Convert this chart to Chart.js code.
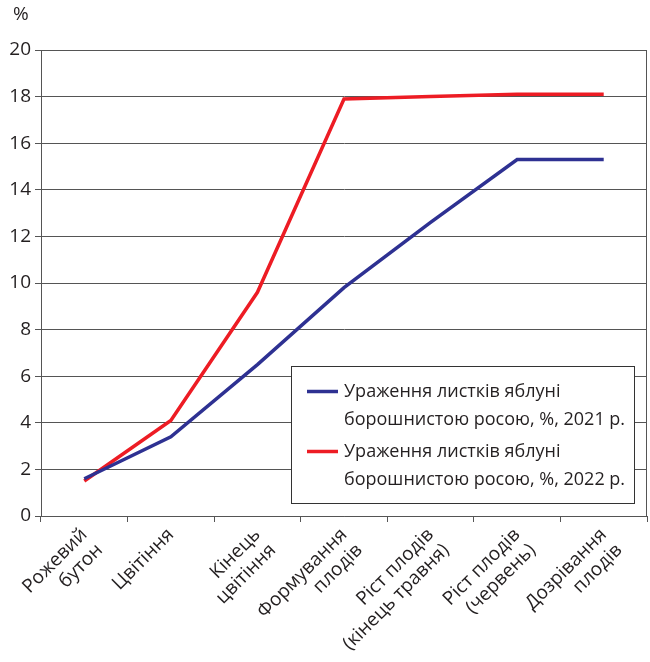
<!DOCTYPE html>
<html>
<head>
<meta charset="utf-8">
<script src="https://cdn.jsdelivr.net/npm/chart.js@4/dist/chart.umd.min.js"></script>
<style>
    html, body { margin: 0; padding: 0; background: #fff; }
    #wrap { width: 650px; height: 662px; position: relative; }
</style>
</head>
<body>
<div id="wrap"><canvas id="mildewChart" width="650" height="662"></canvas></div>
<script>
// Apple powdery mildew - leaf damage by phenophase

const categories = [
    ['Рожевий', 'бутон'],
    ['Цвітіння'],
    ['Кінець', 'цвітіння'],
    ['Формування', 'плодів'],
    ['Ріст плодів', '(кінець травня)'],
    ['Ріст плодів', '(червень)'],
    ['Дозрівання', 'плодів']
];

const damage2021 = [1.6, 3.4, 6.5, 9.8, 12.6, 15.3, 15.3];
const damage2022 = [1.5, 4.1, 9.6, 17.9, 18.0, 18.1, 18.1];

const seriesLabels = [
    'Ураження листків яблуні\nборошнистою росою, %, 2021 р.',
    'Ураження листків яблуні\nборошнистою росою, %, 2022 р.'
];

const yTicks = [0, 2, 4, 6, 8, 10, 12, 14, 16, 18, 20];

const FONT = '"Open Sans", "Noto Sans", sans-serif';
const TEXT = '#231f20';
const GRID = '#555555';

// frame, unit label and the boxed legend inside the plot
const extrasPlugin = {
    id: 'extras',
    afterDraw(chart) {
        const ctx = chart.ctx;
        const area = chart.chartArea;
        ctx.save();

        // top and right border of the plot
        ctx.strokeStyle = GRID;
        ctx.lineWidth = 1;
        ctx.beginPath();
        ctx.moveTo(area.left, area.top + 0.5);
        ctx.lineTo(area.right - 0.5, area.top + 0.5);
        ctx.lineTo(area.right - 0.5, area.bottom);
        ctx.stroke();

        // unit
        ctx.fillStyle = TEXT;
        ctx.font = '19px ' + FONT;
        ctx.textAlign = 'left';
        ctx.textBaseline = 'middle';
        ctx.fillText('%', 13, 15);

        // legend
        const box = { x: 291.5, y: 366.5, w: 343, h: 137 };
        ctx.fillStyle = '#ffffff';
        ctx.fillRect(box.x, box.y, box.w, box.h);
        ctx.strokeStyle = '#333333';
        ctx.strokeRect(box.x, box.y, box.w, box.h);

        ctx.font = '18px ' + FONT;
        chart.data.datasets.forEach((ds, i) => {
            const top = box.y + 25 + i * 60;
            ctx.strokeStyle = ds.borderColor;
            ctx.lineWidth = 3.5;
            ctx.beginPath();
            ctx.moveTo(307, top);
            ctx.lineTo(338, top);
            ctx.stroke();

            ctx.fillStyle = TEXT;
            ds.label.split('\n').forEach((line, j) => {
                ctx.fillText(line, 344, top + j * 28);
            });
        });

        ctx.restore();
    }
};

document.addEventListener('DOMContentLoaded', () => {
    const ctx = document.getElementById('mildewChart').getContext('2d');

    new Chart(ctx, {
        type: 'line',
        data: {
            labels: categories,
            datasets: [{
                label: seriesLabels[0],
                data: damage2021,
                borderColor: '#2e3192',
                borderWidth: 3.5,
                pointRadius: 0,
                tension: 0,
                fill: false
            }, {
                label: seriesLabels[1],
                data: damage2022,
                borderColor: '#ed1c24',
                borderWidth: 3.5,
                pointRadius: 0,
                tension: 0,
                fill: false
            }]
        },
        options: {
            responsive: false,
            animation: false,
            layout: {
                padding: { top: 50, right: 3, left: 0, bottom: 0 }
            },
            plugins: {
                legend: { display: false },
                tooltip: { enabled: false }
            },
            scales: {
                x: {
                    offset: true,
                    grid: {
                        offset: true,
                        drawOnChartArea: false,
                        color: GRID,
                        tickLength: 6
                    },
                    border: { color: GRID, width: 1 },
                    ticks: {
                        color: TEXT,
                        font: { family: FONT, size: 19, lineHeight: 1.15 },
                        maxRotation: 45,
                        minRotation: 45,
                        padding: 2,
                        autoSkip: false
                    },
                    afterFit(scale) {
                        scale.height = 146;
                    }
                },
                y: {
                    min: 0,
                    max: 20,
                    afterBuildTicks(scale) {
                        scale.ticks = yTicks.map(v => ({ value: v }));
                    },
                    grid: {
                        color: GRID,
                        lineWidth: 1,
                        tickLength: 6
                    },
                    border: { color: GRID, width: 1 },
                    ticks: {
                        color: TEXT,
                        font: { family: FONT, size: 19 },
                        padding: 4
                    },
                    afterFit(scale) {
                        scale.width = 41;
                    }
                }
            }
        },
        plugins: [extrasPlugin]
    });
});
</script>
</body>
</html>
